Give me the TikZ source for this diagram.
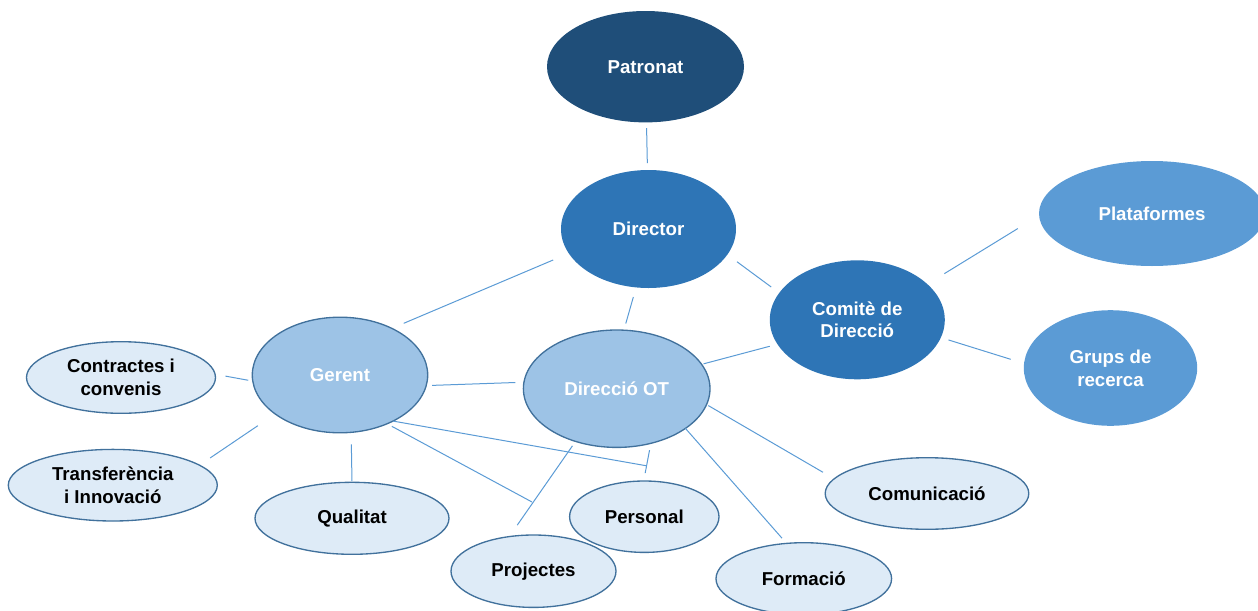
\documentclass[tikz,border=0pt]{standalone}
\usepackage{fontspec}
\setmainfont{Liberation Sans}
\usetikzlibrary{shapes.geometric}
\definecolor{navy}{HTML}{1F4E79}
\definecolor{midblue}{HTML}{2E75B6}
\definecolor{skyblue}{HTML}{5B9BD5}
\definecolor{paleblue}{HTML}{9DC3E6}
\definecolor{lightblue}{HTML}{DEEBF7}
\definecolor{edgeblue}{HTML}{41719C}
\begin{document}
\begin{tikzpicture}[x=0.75pt,y=-0.75pt,
  ell/.style 2 args={ellipse, inner sep=0pt, outer sep=0pt,
    minimum width=#1*1.5pt, minimum height=#2*1.5pt, align=center,
    font=\fontsize{14}{17}\selectfont\bfseries},
  topbox/.style={fill=navy, text=white},
  dirbox/.style={fill=midblue, text=white},
  unitbox/.style={fill=skyblue, text=white},
  mgrbox/.style={fill=paleblue, draw=edgeblue, line width=1pt, text=white},
  leafbox/.style={fill=lightblue, draw=edgeblue, line width=1pt, text=black},
  conn/.style={draw=skyblue, line width=0.75pt}]
\useasboundingbox (0,0) rectangle (1258,611);

% nodes
\node[ell={98.5}{55.7}, topbox]  (patronat)    at (645.5,66.7)  {Patronat};
\node[ell={87.5}{59},   dirbox]  (director)    at (648.5,229)   {Director};
\node[ell={87.5}{59.5}, dirbox]  (comite)      at (857.3,319.8) {Comitè de\\Direcció};
\node[ell={113}{52.5},  unitbox] (plataformes) at (1152,213.5)  {Plataformes};
\node[ell={86.7}{57.8}, unitbox] (grups)       at (1110.5,368)  {Grups de\\recerca};
\node[ell={87.7}{57.8}, mgrbox]  (gerent)      at (340,375)     {Gerent};
\node[ell={93.3}{58.7}, mgrbox]  (dirot)       at (616.7,388.7) {Direcció OT};
\node[ell={94.5}{35.8}, leafbox] (contractes)  at (121,377.5)   {Contractes i\\convenis};
\node[ell={104.5}{35.8},leafbox] (transf)      at (112.8,485.2) {Transferència\\i Innovació};
\node[ell={97}{36},     leafbox] (qualitat)    at (352,518.3)   {Qualitat};
\node[ell={82.5}{36.2}, leafbox] (projectes)   at (533.5,571.2) {Projectes};
\node[ell={74.7}{35.7}, leafbox] (personal)    at (644.3,516.7) {Personal};
\node[ell={87.8}{36},   leafbox] (formacio)    at (803.8,578.7) {Formació};
\node[ell={101.8}{35.8},leafbox] (comunicacio) at (927,493.5)   {Comunicació};

\coordinate (jpers) at (646,465.7);
\coordinate (jproj) at (532,502);

% connectors
\draw[conn, shorten <=4.3pt, shorten >=5.2pt]  (patronat.271.2) -- (director.91.7);
\draw[conn, shorten <=12.7pt, shorten >=9.7pt] (director.197.9) -- (gerent.42.3);
\draw[conn, shorten <=7.5pt, shorten >=5.2pt]  (director.258) -- (dirot.83);
\draw[conn, shorten <=9pt, shorten >=7.5pt]    (director.342.2) -- (comite.161.9);
\draw[conn, shorten <=15pt, shorten >=18.7pt]  (comite.27) -- (plataformes.181.1);
\draw[conn, shorten <=6pt, shorten >=10.5pt]   (comite.348.9) -- (grups.177);
\draw[conn, shorten <=6pt, shorten >=1.5pt]    (comite.197.6) -- (dirot.16.1);
\draw[conn, shorten <=4.5pt, shorten >=6.4pt]  (gerent.353.3) -- (dirot.176.2);
\draw[conn, shorten <=7.9pt, shorten >=3.5pt]  (contractes.2.2) -- (gerent.184.3);
\draw[conn, shorten <=15.7pt, shorten >=9.7pt] (gerent.211.3) -- (transf.13.2);
\draw[conn, shorten <=9pt, shorten >=0.8pt]    (gerent.281.8) -- (qualitat.north);
\draw[conn]                                    (gerent.319.8) -- (jpers);
\draw[conn, shorten <=4.1pt]                   (gerent.314.7) -- (jproj);
\draw[conn, shorten <=4.1pt, shorten >=10.5pt] (dirot.232.7) -- (projectes.125.4);
\draw[conn, shorten <=5.2pt, shorten >=6pt]    (dirot.302.6) -- (personal.91.4);
\draw[conn, shorten >=5.2pt]                   (dirot.330.6) -- (formacio.116.6);
\draw[conn, shorten <=1.5pt, shorten >=9.7pt]  (dirot.350.3) -- (comunicacio.171.7);
\end{tikzpicture}
\end{document}
